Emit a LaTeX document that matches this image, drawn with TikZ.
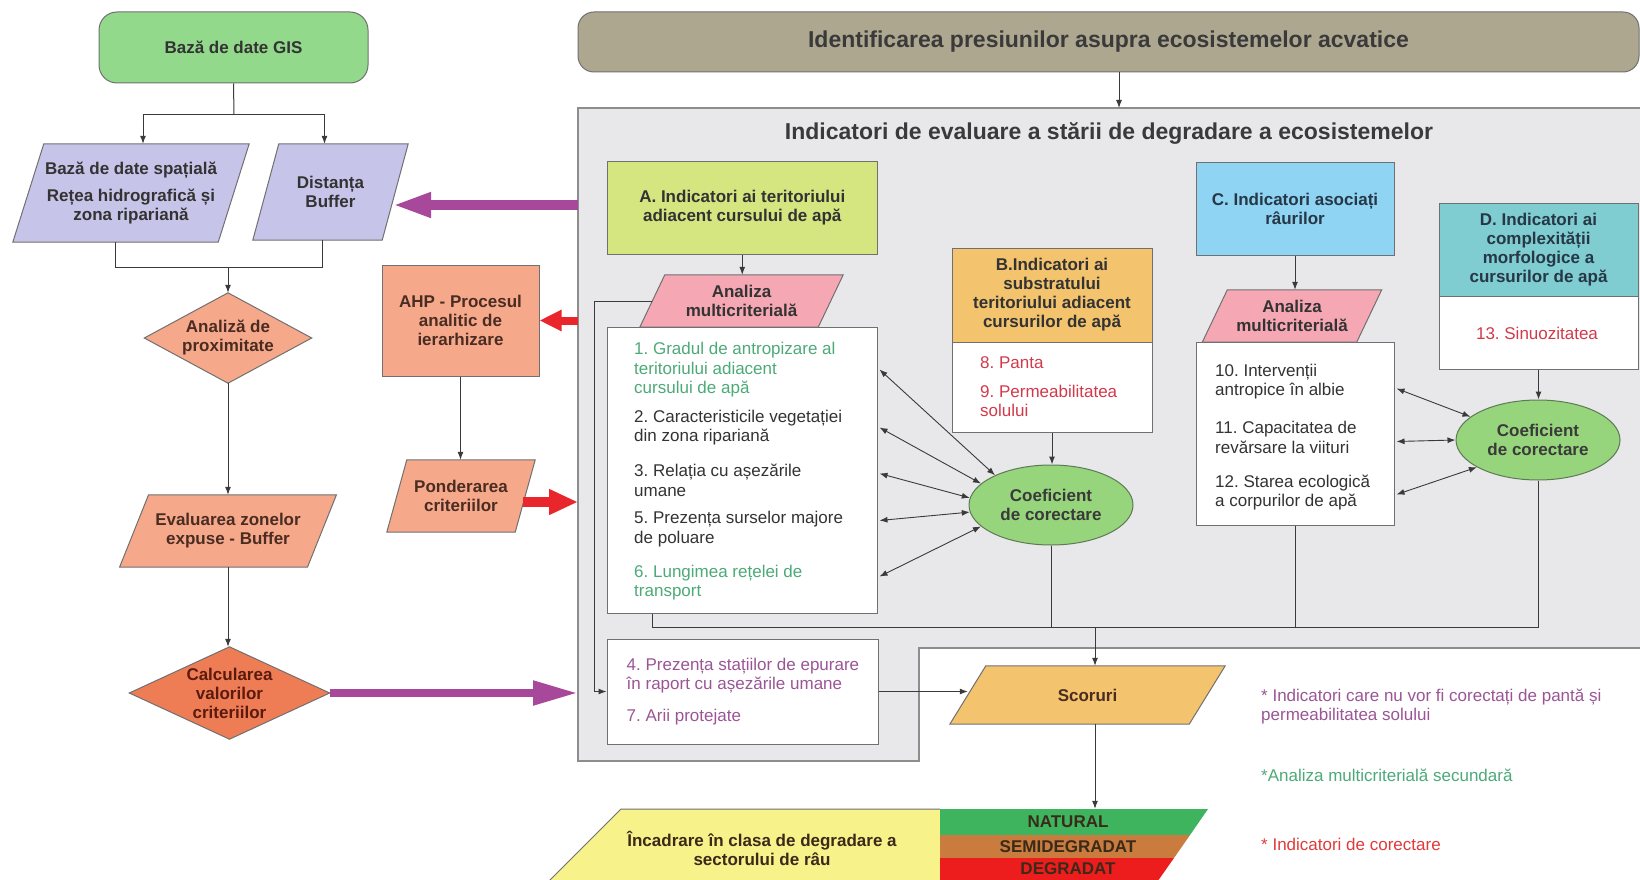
\documentclass[tikz,border=0pt]{standalone}
\usepackage{fontspec}
\setmainfont{Liberation Sans}
\usetikzlibrary{arrows.meta,calc,shapes.geometric}
\pgfdeclarelayer{bg}
\pgfdeclarelayer{shp}
\pgfsetlayers{bg,shp,main}
\definecolor{lnGray}{HTML}{707070}
\definecolor{wireC}{HTML}{3A3A3A}
\definecolor{txt}{HTML}{333333}
\definecolor{gisG}{HTML}{93D98B}
\definecolor{banC}{HTML}{ADA790}
\definecolor{boxBg}{HTML}{E8E8EA}
\definecolor{lavC}{HTML}{C7C4E9}
\definecolor{salC}{HTML}{F6A98A}
\definecolor{calC}{HTML}{EE7D55}
\definecolor{aC}{HTML}{D5E57F}
\definecolor{pinkC}{HTML}{F5A8B4}
\definecolor{orC}{HTML}{F3C46D}
\definecolor{ellC}{HTML}{97D57C}
\definecolor{ellEdge}{HTML}{5E7A55}
\definecolor{cC}{HTML}{8FD4F3}
\definecolor{dC}{HTML}{7FCCD1}
\definecolor{yelC}{HTML}{F8F28A}
\definecolor{natC}{HTML}{3FB45F}
\definecolor{semC}{HTML}{C97C3E}
\definecolor{degC}{HTML}{EE1D1D}
\definecolor{purC}{HTML}{A8489A}
\definecolor{redC}{HTML}{E8262C}
\definecolor{grnT}{HTML}{4DAA78}
\definecolor{redT}{HTML}{D23A4A}
\definecolor{redL}{HTML}{E03A3A}
\definecolor{mauT}{HTML}{9B5595}
\definecolor{brT}{HTML}{4A2C22}
\definecolor{calT}{HTML}{5B1A0E}
\definecolor{navT}{HTML}{263746}
\definecolor{bandT}{HTML}{3A2A1A}

\newcommand\slantbox[3]{%
  \begin{pgfonlayer}{shp}
  \draw[draw=lnGray, line width=1pt, fill=#3] ($(#1.south west)+(-#2,0)$) -- ($(#1.north west)+(#2,0)$) -- ($(#1.north east)+(#2,0)$) -- ($(#1.south east)+(-#2,0)$) -- cycle;
  \end{pgfonlayer}}
\newcommand\diabox[2]{%
  \begin{pgfonlayer}{shp}
  \draw[draw=lnGray, line width=1pt, fill=#2] (#1.west) -- (#1.north) -- (#1.east) -- (#1.south) -- cycle;
  \end{pgfonlayer}}

\tikzset{
  every node/.style={font=\fontsize{17}{19.5}\selectfont\frenchspacing, text=txt},
  hd/.style={font=\fontsize{17}{19}\selectfont\bfseries\frenchspacing, align=center},
  big/.style={font=\fontsize{23}{26}\selectfont\bfseries},
  bx/.style={draw=lnGray, line width=1pt, inner sep=0pt, align=center},
  ghost/.style={inner sep=0pt, align=center},
  item/.style={anchor=west, align=left, inner sep=0pt},
  arr/.style={draw=wireC, line width=1pt, -{Latex[length=8pt,width=6pt]}},
  ln/.style={draw=wireC, line width=1pt},
  dbl/.style={draw=wireC, line width=0.9pt, {Latex[length=8pt,width=6pt]}-{Latex[length=8pt,width=6pt]}},
}

\begin{document}
\frenchspacing
\begin{tikzpicture}[x=1pt,y=-1pt]
\useasboundingbox (0,0) rectangle (1640,880);
\begin{pgfonlayer}{bg}
\fill[white] (0,0) rectangle (1640,880);
\draw[draw=lnGray!80, line width=1.2pt, fill=boxBg] (578,108) -- (1660,108) -- (1660,648) -- (919,648) -- (919,761) -- (578,761) -- cycle;
\end{pgfonlayer}
\coordinate (gbW) at (578,0);
\coordinate (gbTop) at (1119,108);

% ---------- left column ----------
\node[bx, fill=gisG, rounded corners=18pt, minimum width=269pt, minimum height=71pt, hd] (gis) at (233.5,47.5) {Bază de date GIS};
\node[ghost, hd, minimum width=205pt, minimum height=98pt] (bds) at (131,193) {Bază de date spațială\\[8pt]Rețea hidrografică și\\zona ripariană};
\slantbox{bds}{15.5}{lavC}
\node[ghost, hd, minimum width=129pt, minimum height=96pt] (dist) at (330.5,192) {Distanța\\Buffer};
\slantbox{dist}{13}{lavC}
\coordinate (fork) at (234,115);
\draw[ln] (gis.south) -- (fork);
\draw[arr] (fork) -| ($(bds.north)+(12,0)$);
\draw[arr] (fork) -| ($(dist.north)+(-6,0)$);

\node[ghost, hd, text=brT, minimum width=167pt, minimum height=90pt] (prox) at (228,338) {Analiză de\\proximitate};
\diabox{prox}{salC}
\draw[ln] ($(bds.south)+(-15.5,0)$) -- ++(0,25) -| ($(dist.south)+(-8,0)$);
\coordinate (j1) at (228,267);
\draw[arr] (j1) -- (prox.north);

\node[ghost, hd, text=brT, minimum width=187.5pt, minimum height=72pt] (eval) at (228,531) {Evaluarea zonelor\\expuse - Buffer};
\slantbox{eval}{14.5}{salC}
\draw[arr] (prox.south) -- (prox.south |- eval.north);

\node[ghost, hd, text=calT, minimum width=200pt, minimum height=92pt] (calc) at (229.5,693) {Calcularea\\valorilor\\criteriilor};
\diabox{calc}{calC}
\draw[arr] (eval.south) -- (eval.south |- calc.north);

\node[bx, fill=salC, hd, text=brT, minimum width=157pt, minimum height=111pt] (ahp) at (460.5,320.5) {AHP - Procesul\\analitic de\\ierarhizare};
\node[ghost, hd, text=brT, minimum width=128pt, minimum height=72pt] (pond) at (461,496) {Ponderarea\\criteriilor};
\slantbox{pond}{10}{salC}
\draw[arr] (ahp.south) -- (ahp.south |- pond.north);

% big arrows
\draw[purC, line width=10pt, -{Triangle[length=39pt,width=23pt]}] ($(dist.east -| gbW)+(0,13)$) -- ($(dist.east)+(-3,13)$);
\draw[redC, line width=8pt, -{Triangle[length=22pt,width=20pt]}] (ahp.east -| gbW) -- (ahp.east);
\draw[redC, line width=10pt, -{Triangle[length=29pt,width=24pt]}] ($(pond.east)+(-2,6)$) -- ($(pond.east -| gbW)+(0,6)$);
\draw[purC, line width=8pt, -{Triangle[length=45pt,width=23pt]}] (calc.east) -- (calc.east -| gbW);

% ---------- top banner ----------
\node[bx, fill=banC, rounded corners=16pt, minimum width=1061pt, minimum height=60pt, big, text=wireC] (banner) at (1108.5,42) {Identificarea presiunilor asupra ecosistemelor acvatice};
\draw[arr] (banner.south -| gbTop) -- (gbTop);
\node[big, text=wireC] (gbTitle) at (1109,133) {Indicatori de evaluare a stării de degradare a ecosistemelor};

% ---------- A ----------
\node[bx, fill=aC, hd, minimum width=269.5pt, minimum height=93pt] (boxA) at (742.25,207.5) {A. Indicatori ai teritoriului\\adiacent cursului de apă};
\node[ghost, hd, minimum width=178pt, minimum height=52pt] (anaA) at (741.5,301) {Analiza\\multicriterială};
\slantbox{anaA}{12.5}{pinkC}
\draw[arr] (boxA.south) -- (boxA.south |- anaA.north);
\node[bx, fill=white, minimum width=269.5pt, minimum height=286pt] (listA) at (742.25,470) {};
\node[item, text=grnT] (it1) at (634,370) {1. Gradul de antropizare al\\teritoriului adiacent\\cursului de apă};
\node[item] (it2) at (634,427.5) {2. Caracteristicile vegetației\\din zona ripariană};
\node[item] (it3) at (634,480.5) {3. Relația cu așezările\\umane};
\node[item] (it5) at (634,529) {5. Prezența surselor majore\\de poluare};
\node[item, text=grnT] (it6) at (634,582.5) {6. Lungimea rețelei de\\transport};

\node[bx, fill=white, minimum width=271pt, minimum height=105pt] (list47) at (742.5,691.5) {};
\node[item, text=mauT] (it4) at (626.5,675.5) {4. Prezența stațiilor de epurare\\în raport cu așezările umane};
\node[item, text=mauT] (it7) at (626.5,717) {7. Arii protejate};
\draw[arr] (anaA.west) -- ++(-57.5,0) |- (list47.west);

% ---------- B ----------
\node[bx, fill=orC, hd, minimum width=200pt, minimum height=94pt] (boxB) at (1052,295) {B.Indicatori ai\\substratului\\teritoriului adiacent\\cursurilor de apă};
\node[bx, fill=white, minimum width=200pt, minimum height=90pt] (listB) at (1052,387) {};
\node[item, text=redT] (it8) at (980,363) {8. Panta};
\node[item, text=redT] (it9) at (980,401) {9. Permeabilitatea\\solului};

\node[draw=ellEdge, line width=1pt, fill=ellC, ellipse, minimum width=164pt, minimum height=80pt, inner sep=0pt, hd, text=wireC] (ellA) at (1051,505) {Coeficient\\de corectare};
\draw[arr] (listB.south) -- (listB.south |- ellA.north);
\draw[dbl] ($(listA.north east)+(2,43)$) -- (ellA.152);
\draw[dbl] ($(listA.north east)+(2,101)$) -- (ellA.163);
\draw[dbl] ($(listA.north east)+(2,147)$) -- (ellA.175);
\draw[dbl] ($(listA.north east)+(2,194)$) -- (ellA.185);
\draw[dbl] ($(listA.north east)+(2,250)$) -- (ellA.197);

% ---------- C ----------
\node[bx, fill=cC, hd, text=navT, minimum width=198pt, minimum height=93pt] (boxC) at (1295,208.5) {C. Indicatori asociați\\râurilor};
\node[ghost, hd, minimum width=154pt, minimum height=52pt] (anaC) at (1292,316) {Analiza\\multicriterială};
\slantbox{anaC}{12.5}{pinkC}
\draw[arr] (boxC.south) -- (boxC.south |- anaC.north);
\node[bx, fill=white, minimum width=198pt, minimum height=183pt] (listC) at (1295,433.5) {};
\node[item] (it10) at (1215,381.5) {10. Intervenții\\antropice în albie};
\node[item] (it11) at (1215,437.5) {11. Capacitatea de\\revărsare la viituri};
\node[item] (it12) at (1215,492.5) {12. Starea ecologică\\a corpurilor de apă};

% ---------- D ----------
\node[bx, fill=dC, hd, text=navT, minimum width=199pt, minimum height=93pt] (boxD) at (1538.5,249.5) {D. Indicatori ai\\complexității\\morfologice a\\cursurilor de apă};
\node[bx, fill=white, minimum width=199pt, minimum height=73pt] (listD) at (1538.5,332.5) {};
\node[text=redT, inner sep=0pt] (it13) at (1537,333) {13. Sinuozitatea};
\node[draw=ellEdge, line width=1pt, fill=ellC, ellipse, minimum width=164pt, minimum height=80pt, inner sep=0pt, hd, text=wireC] (ellB) at (1538,440) {Coeficient\\de corectare};
\draw[arr] (listD.south) -- (listD.south |- ellB.north);
\draw[dbl] ($(listC.north east)+(2,47)$) -- (ellB.161);
\draw[dbl] ($(listC.north east)+(2,100)$) -- (ellB.180);
\draw[dbl] ($(listC.north east)+(2,153)$) -- (ellB.204);

% ---------- collecting lines ----------
\draw[ln] (ellA.south) -- ($(ellA.south)+(0,82)$);
\draw[ln] ($(listA.south west)+(45,0)$) -- ++(0,14) -| (ellB.south);
\draw[ln] (listC.south) -- ++(0,102);
\coordinate (cj) at (1095,627);

% ---------- scores & classes ----------
\node[ghost, hd, text=brT, minimum width=239pt, minimum height=58pt] (scor) at (1087.5,695) {Scoruri};
\slantbox{scor}{18}{orC}
\draw[arr] (cj) -- (cj |- scor.north);
\draw[arr] (list47.east) -- (list47.east -| scor.west);

\begin{pgfonlayer}{shp}
\fill[yelC] (621,809) -- (940,809) -- (940,885) -- (545,885) -- cycle;
\draw[lnGray, line width=1pt] (545,885) -- (621,809) -- (940,809);
\fill[natC] (940,809) -- (1208,809) -- (1190,835) -- (940,835) -- cycle;
\fill[semC] (940,835) -- (1190,835) -- (1174,858) -- (940,858) -- cycle;
\fill[degC] (940,858) -- (1174,858) -- (1155,885) -- (940,885) -- cycle;
\end{pgfonlayer}
\node[hd, text=bandT] (incadr) at (762,848) {Încadrare în clasa de degradare a\\sectorului de râu};
\node[ghost, hd, text=bandT, minimum width=250pt, minimum height=26pt] (nat) at (1068,822) {NATURAL};
\node[ghost, hd, text=bandT, minimum width=250pt, minimum height=23pt] (semi) at (1068,846.5) {SEMIDEGRADAT};
\node[ghost, hd, text=bandT, minimum width=250pt, minimum height=22pt] (degr) at (1068,869) {DEGRADAT};
\draw[arr] (scor.south -| cj) -- (cj |- nat.north);

% ---------- legend ----------
\node[item, text=mauT] (leg1) at (1261,706.5) {* Indicatori care nu vor fi corectați de pantă și\\permeabilitatea solului};
\node[item, text=grnT] (leg2) at (1261,775) {*Analiza multicriterială secundară};
\node[item, text=redL] (leg3) at (1261,844) {* Indicatori de corectare};
\end{tikzpicture}
\end{document}
